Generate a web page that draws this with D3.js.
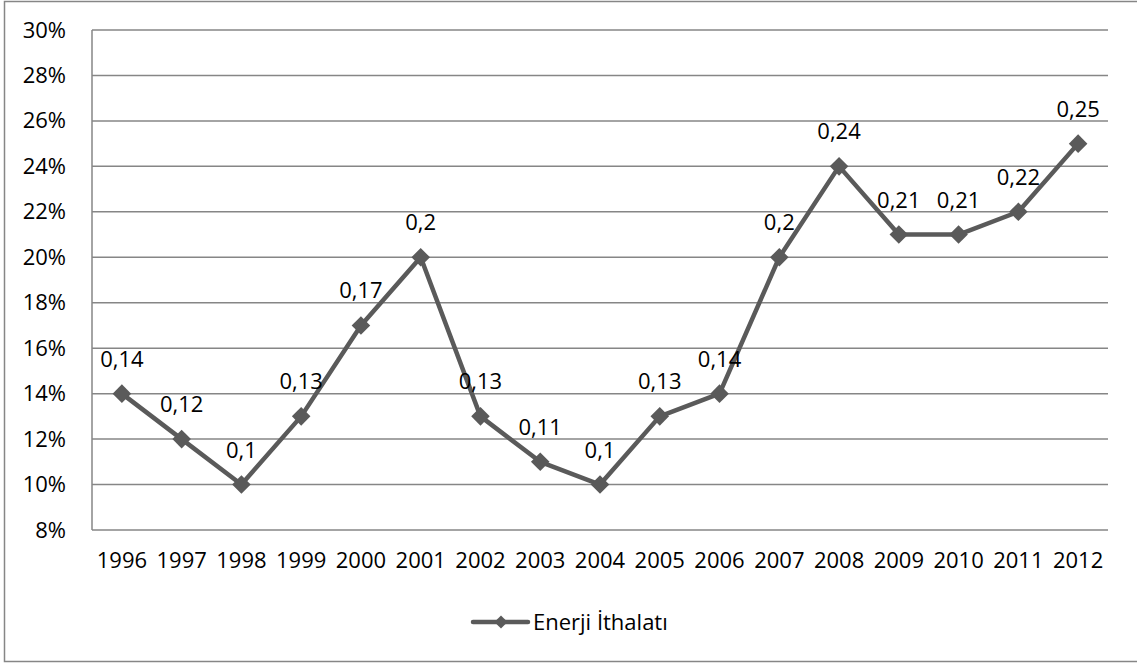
<!DOCTYPE html>
<html>
<head>
<meta charset="utf-8">
<script src="https://cdn.jsdelivr.net/npm/d3@7"></script>
<style>
  body { margin: 0; background: #fff; }
  svg { display: block; font-family: "Open Sans", "Noto Sans", sans-serif; }
</style>
</head>
<body>
<svg width="1137" height="664"></svg>
<script>
// Data
var years = ["1996","1997","1998","1999","2000","2001","2002","2003","2004",
             "2005","2006","2007","2008","2009","2010","2011","2012"]
  , values = [0.14, 0.12, 0.10, 0.13, 0.17, 0.20, 0.13, 0.11, 0.10,
              0.13, 0.14, 0.20, 0.24, 0.21, 0.21, 0.22, 0.25]
  , yTicks = [0.08, 0.10, 0.12, 0.14, 0.16, 0.18, 0.20, 0.22, 0.24, 0.26, 0.28, 0.30]
  , seriesName = "Enerji İthalatı"
;

// Configuration parameters.
var margin = { left: 92, right: 29, top: 30, bottom: 134 }
  , width = 1137
  , height = 664
  , lineColor = "#5a5a5a"
  , gridColor = "#868686"
  , fontSize = 22
;

var svg = d3.select("svg")
  , innerWidth = width - margin.left - margin.right
  , innerHeight = height - margin.top - margin.bottom
;

// Outer frame (right edge falls outside the picture)
svg.append("rect")
    .attr("x", 4.5).attr("y", 1.5)
    .attr("width", 1140).attr("height", 660)
    .attr("fill", "none")
    .attr("stroke", gridColor)
    .attr("stroke-width", 1.5);

var g = svg.append("g")
    .attr("transform", "translate(" + [margin.left, margin.top] + ")");

// Scales
var xScale = d3.scaleBand().domain(years).range([0, innerWidth])
  , yScale = d3.scaleLinear().domain([0.08, 0.30]).range([innerHeight, 0])
  , xMid = function (d){ return xScale(d) + xScale.bandwidth() / 2; }
;

// Gridlines
g.selectAll("line.grid")
    .data(yTicks)
  .enter().append("line")
    .attr("class", "grid")
    .attr("x1", 0).attr("x2", innerWidth)
    .attr("y1", function (d){ return yScale(d); })
    .attr("y2", function (d){ return yScale(d); })
    .attr("stroke", gridColor)
    .attr("stroke-width", 1.5);

// Left axis line
g.append("line")
    .attr("x1", 0).attr("x2", 0)
    .attr("y1", 0).attr("y2", innerHeight)
    .attr("stroke", gridColor)
    .attr("stroke-width", 1.5);

// Y axis labels
var yAxisG = g.append("g")
    .call(d3.axisLeft(yScale).tickValues(yTicks).tickFormat(d3.format(".0%")).tickSize(0).tickPadding(26));
yAxisG.select(".domain").remove();
yAxisG.selectAll("text")
    .attr("font-family", "Open Sans")
    .attr("font-size", fontSize)
    .attr("fill", "#000");

// X axis labels
var xAxisG = g.append("g")
    .attr("transform", "translate(0," + innerHeight + ")")
    .call(d3.axisBottom(xScale).tickSize(0).tickPadding(22));
xAxisG.select(".domain").remove();
xAxisG.selectAll("text")
    .attr("font-family", "Open Sans")
    .attr("font-size", fontSize)
    .attr("fill", "#000");

// Line
var data = years.map(function (y, i){ return { year: y, value: values[i] }; });
var line = d3.line()
    .x(function (d){ return xMid(d.year); })
    .y(function (d){ return yScale(d.value); });

g.append("path")
    .datum(data)
    .attr("d", line)
    .attr("fill", "none")
    .attr("stroke", lineColor)
    .attr("stroke-width", 4.5)
    .attr("stroke-linejoin", "round");

// Markers
var diamond = d3.symbol().type(d3.symbolDiamond2).size(220);
g.selectAll("path.marker")
    .data(data)
  .enter().append("path")
    .attr("class", "marker")
    .attr("d", diamond)
    .attr("transform", function (d){ return "translate(" + [xMid(d.year), yScale(d.value)] + ")"; })
    .attr("fill", lineColor);

// Data labels
g.selectAll("text.label")
    .data(data)
  .enter().append("text")
    .attr("class", "label")
    .attr("x", function (d){ return xMid(d.year); })
    .attr("y", function (d){ return yScale(d.value) - 27; })
    .attr("text-anchor", "middle")
    .attr("font-size", fontSize)
    .text(function (d){ return String(d.value).replace(".", ","); });

// Legend
var legendG = svg.append("g").attr("transform", "translate(473,622)");
legendG.append("line")
    .attr("x1", 0).attr("x2", 55)
    .attr("stroke", lineColor)
    .attr("stroke-width", 4.5)
    .attr("stroke-linecap", "round");
legendG.append("path")
    .attr("d", d3.symbol().type(d3.symbolDiamond2).size(110))
    .attr("transform", "translate(28,0)")
    .attr("fill", lineColor);
legendG.append("text")
    .attr("x", 60).attr("y", 8)
    .attr("font-size", fontSize)
    .text(seriesName);
</script>
</body>
</html>
